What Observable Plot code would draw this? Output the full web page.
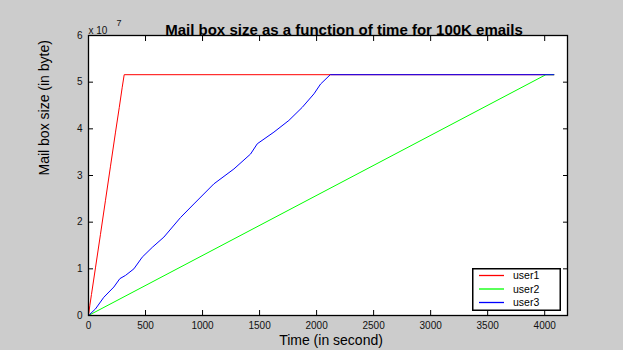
<!DOCTYPE html>
<html>
<head>
<meta charset="utf-8">
<script src="https://cdn.jsdelivr.net/npm/d3@7"></script>
<script src="https://cdn.jsdelivr.net/npm/@observablehq/plot@0.6"></script>
<style>
  html, body { margin: 0; padding: 0; background: #cccccc; }
  #wrap { position: relative; width: 623px; height: 350px; overflow: hidden; font-family: "Liberation Sans", Arial, sans-serif; }
  #legend { position: absolute; left: 472px; top: 268px; }
</style>
</head>
<body>
<div id="wrap"></div>
<script>
// ---- data (sizes in units of 1e7 bytes, time in seconds) ----
const seriesNames = ["user1", "user2", "user3"];
const seriesColors = ["#ff0000", "#00ff00", "#0000ff"];

const user1Time = [0, 12, 26, 61, 105, 149, 193, 237, 270, 295, 313, 4080];
const user1Size = [0, 0.22, 0.45, 1.02, 1.74, 2.47, 3.2, 3.93, 4.46, 4.88, 5.16, 5.16];

const user2Time = [0, 4010, 4080];
const user2Size = [0, 5.16, 5.16];

const user3Time = [0, 9, 61, 134, 222, 275, 325, 398, 471, 559, 661, 807, 924, 1099, 1275, 1421, 1480, 1626, 1757, 1874, 1977, 2035, 2120, 4080];
const user3Size = [0, 0.02, 0.14, 0.39, 0.61, 0.79, 0.86, 1.0, 1.25, 1.46, 1.68, 2.1, 2.39, 2.82, 3.14, 3.46, 3.68, 3.93, 4.18, 4.46, 4.75, 4.96, 5.16, 5.16];

const xTicks = [0, 500, 1000, 1500, 2000, 2500, 3000, 3500, 4000];
const yTicks = [0, 1, 2, 3, 4, 5, 6];

const titleText = "Mail box size as a function of time for 100K emails";
const xLabel = "Time (in second)";
const yLabel = "Mail box size (in byte)";

// ---- build rows ----
const times = [user1Time, user2Time, user3Time];
const sizes = [user1Size, user2Size, user3Size];
const rows = [];
seriesNames.forEach((name, i) => {
  times[i].forEach((t, j) => rows.push({series: name, t, v: sizes[i][j]}));
});

const font = "Liberation Sans, Arial, sans-serif";

const chart = Plot.plot({
  width: 623,
  height: 350,
  marginLeft: 88,
  marginRight: 56,
  marginTop: 35,
  marginBottom: 35,
  style: {background: "#cccccc", fontFamily: font, fontSize: "10px", color: "#000"},
  x: {domain: [0, 4200], ticks: xTicks},
  y: {domain: [0, 6], ticks: yTicks},
  color: {domain: seriesNames, range: seriesColors},
  marks: [
    Plot.frame({fill: "white", stroke: null}),
    ...seriesNames.map((name) =>
      Plot.line(rows.filter(d => d.series === name), {x: "t", y: "v", stroke: "series", strokeWidth: 1})
    ),
    Plot.frame({stroke: "#000", strokeWidth: 1.3}),
    Plot.axisX(xTicks, {anchor: "bottom", tickSize: -5, tickPadding: 11, tickFormat: d3.format("d"), label: null, fontSize: 10, fill: "#111"}),
    Plot.axisX(xTicks, {anchor: "top", tickSize: -5, tickFormat: () => "", label: null}),
    Plot.axisY(yTicks, {anchor: "left", tickSize: -5, tickPadding: 11, tickFormat: d3.format("d"), label: null, fontSize: 10, fill: "#111"}),
    Plot.axisY(yTicks, {anchor: "right", tickSize: -5, tickFormat: () => "", label: null}),
    Plot.text([titleText], {frameAnchor: "top", dx: 16, dy: -11, fontSize: 15, fontWeight: "bold", fill: "#000"}),
    Plot.text([xLabel], {frameAnchor: "bottom", dx: 3, dy: 29, fontSize: 14, fill: "#000"}),
    Plot.text([yLabel], {frameAnchor: "left", dx: -44, rotate: -90, fontSize: 14, fill: "#000"}),
    Plot.text(["x 10"], {frameAnchor: "top-left", textAnchor: "start", dx: 0, dy: -9, fontSize: 10, fill: "#111"}),
    Plot.text(["7"], {frameAnchor: "top-left", textAnchor: "start", dx: 28, dy: -16, fontSize: 9, fill: "#111"})
  ]
});

const wrap = document.getElementById("wrap");
wrap.appendChild(chart);

// legend overlay (inline SVG, not part of the data marks)
const ns = "http://www.w3.org/2000/svg";
const lg = document.createElementNS(ns, "svg");
lg.setAttribute("id", "legend");
lg.setAttribute("width", 89);
lg.setAttribute("height", 43);
const box = document.createElementNS(ns, "rect");
box.setAttribute("x", 0.75); box.setAttribute("y", 0.75);
box.setAttribute("width", 87.5); box.setAttribute("height", 41.5);
box.setAttribute("fill", "#fff"); box.setAttribute("stroke", "#000"); box.setAttribute("stroke-width", 1.5);
lg.appendChild(box);
seriesNames.forEach((name, i) => {
  const y = 7.5 + i * 13.5;
  const ln = document.createElementNS(ns, "line");
  ln.setAttribute("x1", 7); ln.setAttribute("x2", 32);
  ln.setAttribute("y1", y); ln.setAttribute("y2", y);
  ln.setAttribute("stroke", seriesColors[i]); ln.setAttribute("stroke-width", 1.3);
  lg.appendChild(ln);
  const tx = document.createElementNS(ns, "text");
  tx.setAttribute("x", 41); tx.setAttribute("y", y + 3.5);
  tx.setAttribute("font-family", font); tx.setAttribute("font-size", 10.5);
  tx.textContent = name;
  lg.appendChild(tx);
});
wrap.appendChild(lg);
</script>
</body>
</html>
